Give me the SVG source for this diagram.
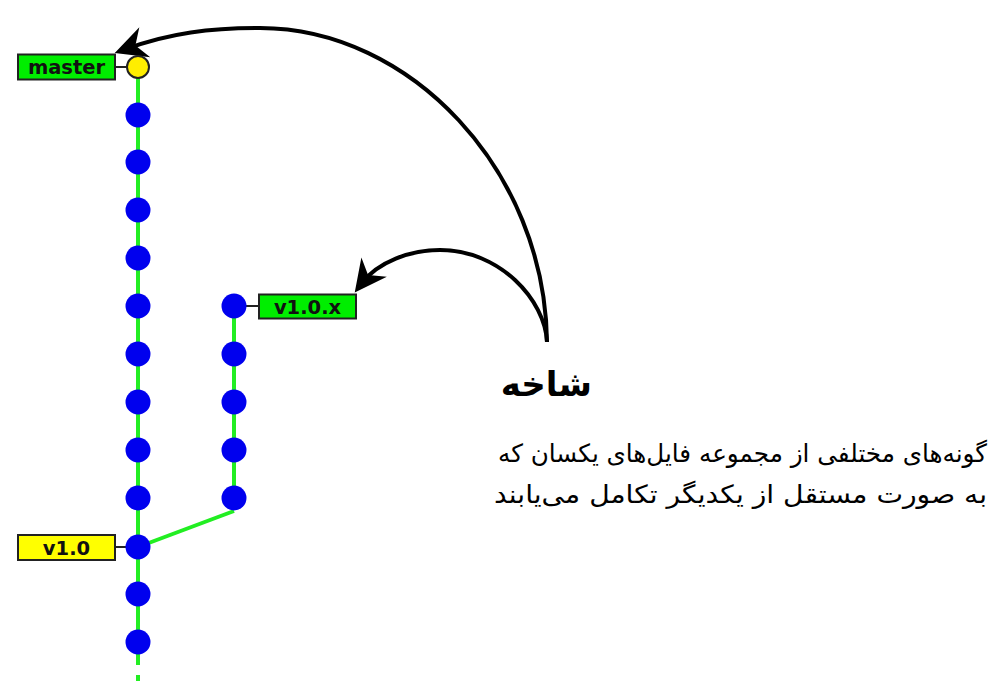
<svg xmlns="http://www.w3.org/2000/svg" width="993" height="687" viewBox="0 0 993 687">
<style>
.edge{stroke:#22ee22;stroke-width:4;fill:none}
.tick{stroke:#222;stroke-width:2}
.c{fill:#0000ee}
.head{fill:#ffee00;stroke:#222;stroke-width:2}
.lbl{stroke:#222;stroke-width:2}
.lt{font-family:"DejaVu Sans",sans-serif;font-weight:bold;font-size:19.5px;text-anchor:middle;fill:#111}
.arc{stroke:#000;stroke-width:4;fill:none;marker-end:url(#ah)}
.fa{font-family:"DejaVu Sans","Noto Sans",sans-serif;fill:#000;text-anchor:end}
</style>
<defs>
<marker id="ah" markerUnits="userSpaceOnUse" orient="auto" markerWidth="60" markerHeight="60" viewBox="-30 -30 60 60" refX="0" refY="0" overflow="visible">
<path d="M12,0 L-20,-16 L-10,0 L-20,16 Z" fill="#000"/>
</marker>
</defs>
<rect width="993" height="687" fill="#fff"/>
<g id="connectors">
<line class="edge" x1="138" y1="67" x2="138" y2="665"/>
<line class="edge" x1="138" y1="675" x2="138" y2="681"/>
<line class="edge" x1="234" y1="306" x2="234" y2="498"/>
<line class="edge" x1="234" y1="511" x2="138" y2="547"/>
<line class="tick" x1="115" y1="67" x2="128" y2="67"/>
<line class="tick" x1="246" y1="306" x2="259" y2="306"/>
<line class="tick" x1="115" y1="547" x2="127" y2="547"/>
<path class="arc" d="M547,342 C545,170 410,28 260,28 C210,28 170,33 126,49"/>
<path class="arc" d="M547,342 C545,300 500,250 440,250 C410,250 378,262 362,283"/>
</g>
<g id="master-commit"><circle class="head" cx="138" cy="67" r="11"/></g>
<g id="main-commits">
<circle class="c" cx="138" cy="115" r="12.5"/>
<circle class="c" cx="138" cy="162" r="12.5"/>
<circle class="c" cx="138" cy="210" r="12.5"/>
<circle class="c" cx="138" cy="258" r="12.5"/>
<circle class="c" cx="138" cy="306" r="12.5"/>
<circle class="c" cx="138" cy="354" r="12.5"/>
<circle class="c" cx="138" cy="402" r="12.5"/>
<circle class="c" cx="138" cy="450" r="12.5"/>
<circle class="c" cx="138" cy="498" r="12.5"/>
<circle class="c" cx="138" cy="547" r="12.5"/>
<circle class="c" cx="138" cy="594" r="12.5"/>
<circle class="c" cx="138" cy="642" r="12.5"/>
</g>
<g id="branch-commits">
<circle class="c" cx="234" cy="306" r="12.5"/>
<circle class="c" cx="234" cy="354" r="12.5"/>
<circle class="c" cx="234" cy="402" r="12.5"/>
<circle class="c" cx="234" cy="450" r="12.5"/>
<circle class="c" cx="234" cy="498" r="12.5"/>
</g>
<g id="label-master">
<rect class="lbl" x="18" y="54.5" width="97" height="25" fill="#00ee00"/>
<text class="lt" x="66.5" y="74">master</text>
</g>
<g id="label-v10x">
<rect class="lbl" x="259" y="294.5" width="97" height="24" fill="#00ee00"/>
<text class="lt" x="307.5" y="313.5">v1.0.x</text>
</g>
<g id="label-v10">
<rect class="lbl" x="18" y="535" width="97" height="25" fill="#ffff00"/>
<text class="lt" x="66.5" y="554.5">v1.0</text>
</g>
<g id="caption">
<text class="fa" x="592" y="396" font-size="34" font-weight="bold">شاخه</text>
<text class="fa" x="987" y="462" font-size="25" textLength="489" lengthAdjust="spacingAndGlyphs">گونه‌های مختلفی از مجموعه فایل‌های یکسان که</text>
<text class="fa" x="987" y="503" font-size="25" textLength="493" lengthAdjust="spacingAndGlyphs">به صورت مستقل از یکدیگر تکامل می‌یابند</text>
</g>
</svg>
